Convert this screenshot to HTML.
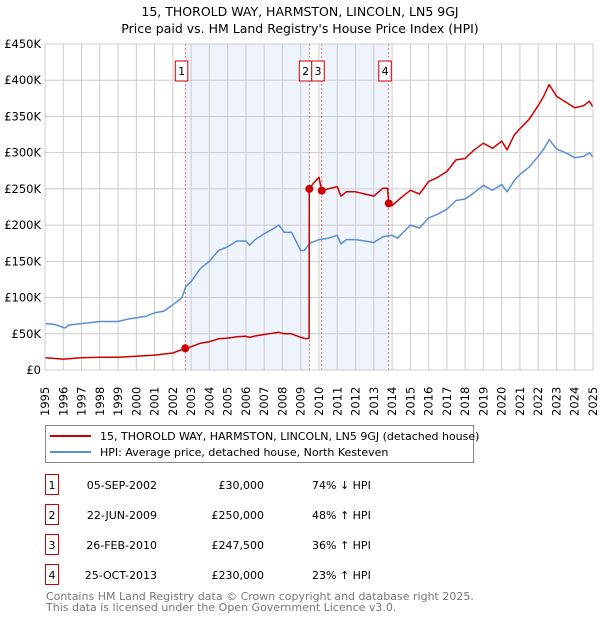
<!DOCTYPE html>
<html><head><meta charset="utf-8"><style>
body{margin:0;background:#fff;font-family:"Liberation Sans","DejaVu Sans",sans-serif;}
svg text{font-family:"DejaVu Sans","Liberation Sans",sans-serif;}
</style></head><body>
<svg id="c" width="600" height="620" xmlns="http://www.w3.org/2000/svg">
<text x="300" y="16" text-anchor="middle" font-size="12.5">15, THOROLD WAY, HARMSTON, LINCOLN, LN5 9GJ</text>
<text x="300" y="33" text-anchor="middle" font-size="12.5">Price paid vs. HM Land Registry's House Price Index (HPI)</text>
<g id="plot"></g>
<g>
<rect x="45.5" y="425.5" width="428" height="37" fill="#fff" stroke="#888"/>
<line x1="50" y1="436" x2="91" y2="436" stroke="#cc0000" stroke-width="2"/>
<text x="100" y="440" font-size="11">15, THOROLD WAY, HARMSTON, LINCOLN, LN5 9GJ (detached house)</text>
<line x1="50" y1="452" x2="91" y2="452" stroke="#5b8fd4" stroke-width="2"/>
<text x="100" y="456" font-size="11">HPI: Average price, detached house, North Kesteven</text>
</g>
<g id="table" font-size="11"></g>
<text x="46" y="600" font-size="11" fill="#777">Contains HM Land Registry data © Crown copyright and database right 2025.</text>
<text x="46" y="611" font-size="11" fill="#777">This data is licensed under the Open Government Licence v3.0.</text>
</svg>
<script>
const hpiYears=[1995,1995.5,1996.1,1996.3,1997,1998,1999,1999.5,2000,2000.5,2001,2001.5,2002,2002.5,2002.7,2003,2003.5,2004,2004.5,2005,2005.5,2006,2006.2,2006.5,2007,2007.5,2007.8,2008.1,2008.5,2009,2009.2,2009.5,2010,2010.5,2011,2011.2,2011.5,2012,2012.5,2013,2013.5,2014,2014.3,2015,2015.5,2016,2016.5,2017,2017.5,2018,2018.5,2019,2019.5,2020,2020.3,2020.7,2021,2021.5,2022,2022.3,2022.6,2023,2023.5,2024,2024.5,2024.8,2025];
const hpiValues=[64,63,58,62,64,67,67,70,72,74,79,81,90,100,115,122,140,150,165,170,178,178,172,180,188,195,200,190,190,165,165,175,180,182,186,174,180,180,178,176,184,186,182,200,196,210,215,222,234,236,245,255,248,256,246,262,270,280,295,305,318,305,300,293,295,300,294];
const propYears=[1995,1996,1997,1998,1999,2000,2001,2002,2002.68,2003,2003.5,2004,2004.5,2005,2005.5,2006,2006.2,2006.5,2007,2007.5,2007.8,2008.1,2008.5,2009,2009.3,2009.46,2009.47,2009.7,2010.0,2010.15,2010.5,2011,2011.2,2011.5,2012,2012.5,2013,2013.5,2013.75,2013.82,2014,2014.5,2015,2015.5,2016,2016.5,2017,2017.5,2018,2018.5,2019,2019.5,2020,2020.3,2020.7,2021,2021.5,2022,2022.3,2022.6,2023,2023.5,2024,2024.5,2024.8,2025];
const propValues=[17,15,17,17.5,17.5,19,20.5,23.5,30,32,37,39,43,44,46,46.5,45,47,49,51,52,50,50,45,43,44,250,258,266,247.5,250,253,240,246,246,243,240,251,251,230,227,238,248,243,260,266,274,290,292,304,313,306,316,304,325,333,346,365,378,394,378,370,362,365,371,363];
const saleYears=[2002.68,2009.47,2010.15,2013.82];
const salePrices=[30,250,247.5,230];
const saleDates=["05-SEP-2002","22-JUN-2009","26-FEB-2010","25-OCT-2013"];
const salePriceLabels=["£30,000","£250,000","£247,500","£230,000"];
const saleHpi=["74% ↓ HPI","48% ↑ HPI","36% ↑ HPI","23% ↑ HPI"];
const yTicks=[0,50,100,150,200,250,300,350,400,450];
const yTickLabels=["£0","£50K","£100K","£150K","£200K","£250K","£300K","£350K","£400K","£450K"];
const NS="http://www.w3.org/2000/svg";
const X0=45,X1=593,Y0=370,Y1=44;
const xs=y=>X0+(y-1995)/30*(X1-X0);
const ys=v=>Y0-v/450*(Y0-Y1);
const plot=document.getElementById('plot');
function mk(tag,attrs,parent){const e=document.createElementNS(NS,tag);for(const k in attrs)e.setAttribute(k,attrs[k]);(parent||plot).appendChild(e);return e;}
[[0,1],[2,3]].forEach((p,i)=>{const r=mk('rect',{x:xs(saleYears[p[0]]),y:Y1,width:xs(saleYears[p[1]])-xs(saleYears[p[0]]),height:Y0-Y1,fill:'#eef3fc'});

});
for(let yr=1995;yr<=2025;yr++){const l=mk('line',{x1:xs(yr),x2:xs(yr),y1:Y1,y2:Y0,stroke:'#ccc','stroke-width':1});


const t=mk('text',{x:0,y:0,'font-size':11.5,transform:`translate(${xs(yr)+4},${Y0+46}) rotate(-90)`});t.textContent=yr;

}
yTicks.forEach((v,i)=>{const l=mk('line',{x1:X0,x2:X1,y1:ys(v),y2:ys(v),stroke:'#ccc','stroke-width':1});


const t=mk('text',{x:X0-4,y:ys(v)+4,'font-size':11.5,'text-anchor':'end'});t.textContent=yTickLabels[i];

});
saleYears.forEach((s,i)=>{const l=mk('line',{x1:xs(s),x2:xs(s),y1:Y1,y2:Y0,stroke:'#e05050','stroke-width':0.8,'stroke-dasharray':'2,2'});


const bx=xs(s)-10;
const r=mk('rect',{x:bx,y:61,width:12.5,height:20,fill:'#fff',stroke:'#cc0000'});


const t=mk('text',{x:bx+6.3,y:75,'font-size':11,'text-anchor':'middle'});t.textContent=i+1;

});
function path(xa,va,color,name){const d=xa.map((x,i)=>(i?'L':'M')+xs(x).toFixed(1)+','+ys(va[i]).toFixed(1)).join('');
const p=mk('path',{d,fill:'none',stroke:color,'stroke-width':1.5,'stroke-linejoin':'round'});

}
path(hpiYears,hpiValues,'#5b8fd4','hpi-line');
path(propYears,propValues,'#cc0000','property-price-line');
saleYears.forEach((s,i)=>{const c=mk('circle',{cx:xs(s),cy:ys(salePrices[i]),r:4,fill:'#cc0000'});

});
mk('rect',{x:X0,y:Y1,width:X1-X0,height:Y0-Y1,fill:'none',stroke:'#ccc'});
const tb=document.getElementById('table');
saleDates.forEach((d,i)=>{const y=487+i*30;
const r=mk('rect',{x:45.5,y:y-12.5,width:13,height:20,fill:'#fff',stroke:'#cc0000'},tb);


const cells=[[52,'middle',String(i+1),'table-index'],[157,'end',d,'table-date'],[264,'end',salePriceLabels[i],'table-price'],[312,'start',saleHpi[i],'table-hpi-diff']];
cells.forEach(c=>{const t=mk('text',{x:c[0],y:y+2,'text-anchor':c[1]},tb);t.textContent=c[2];

});});
</script>
</body></html>
